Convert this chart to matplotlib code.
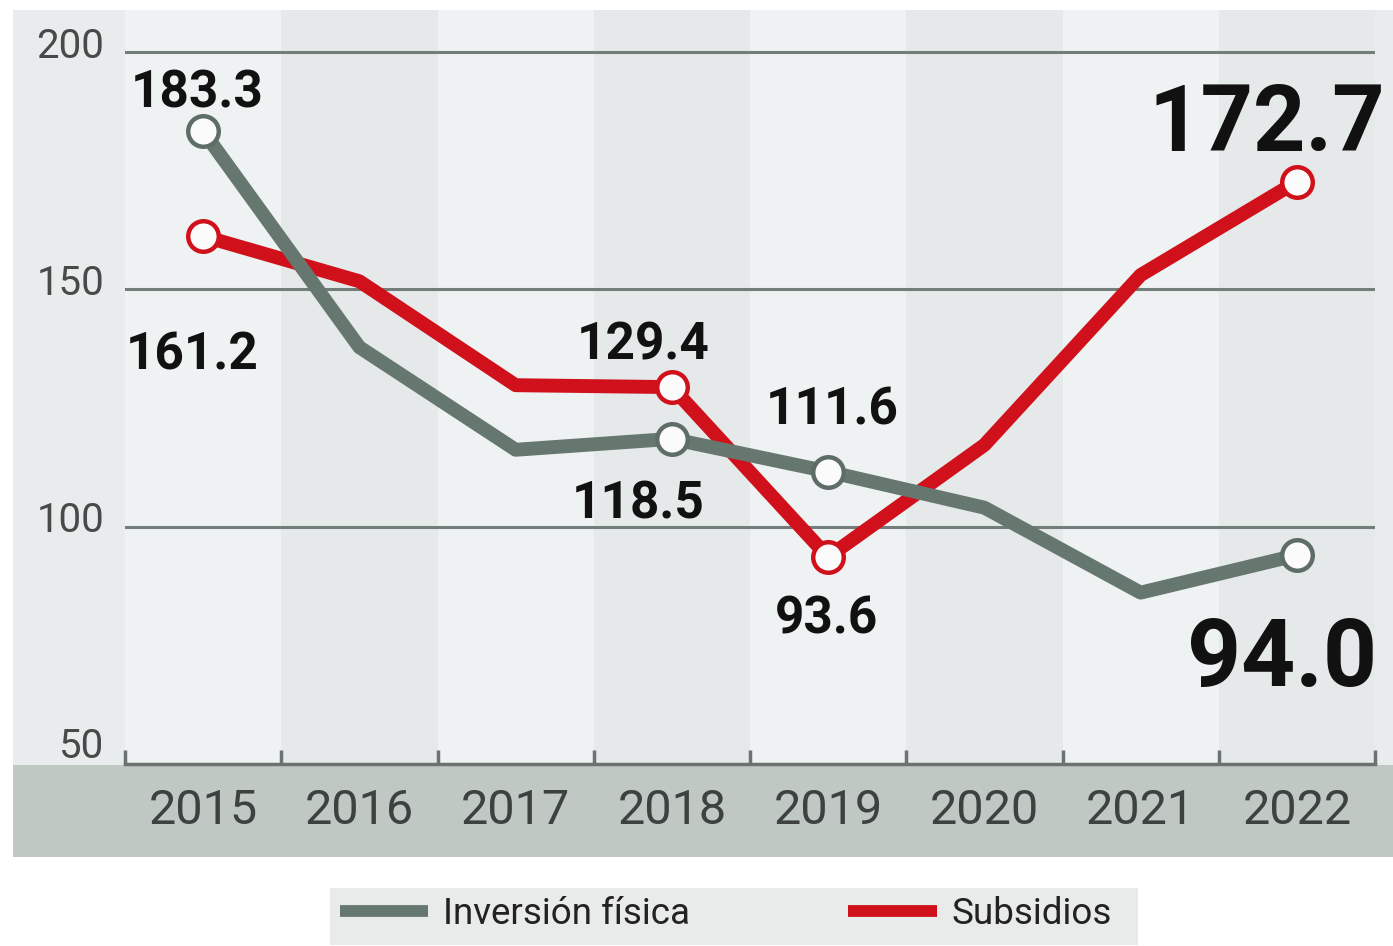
import numpy as np
import matplotlib.pyplot as plt
from matplotlib.patches import Rectangle
from matplotlib.lines import Line2D
from matplotlib.transforms import offset_copy

# Inversión física vs Subsidios, 2015-2022
years = ['2015', '2016', '2017', '2018', '2019', '2020', '2021', '2022']
inversion = [183.3, 137.8, 116.2, 118.5, 111.6, 104.0, 86.1, 94.0]
subsidios = [161.2, 151.7, 129.8, 129.4, 93.6, 117.2, 153.0, 172.7]
y_ticks = [50, 100, 150, 200]
labeled = [0, 3, 4, 7]   # points that get a marker and a value label

GRAY = '#66776f'
RED = '#d0111b'
plt.rcParams['font.family'] = ['Roboto', 'DejaVu Sans']

W, H = 1393, 946
fig = plt.figure(figsize=(W / 100, H / 100), dpi=100)

def fx(px):
    return px / W

def fy(py):
    return 1 - py / H

# grey panel, bottom band for the years and legend box
fig.add_artist(Rectangle((fx(13), fy(857)), fx(1393) - fx(13), fy(10) - fy(857),
                         transform=fig.transFigure, color='#e9ecec', lw=0, zorder=-2))
fig.add_artist(Rectangle((fx(13), fy(857)), fx(1393) - fx(13), fy(765) - fy(857),
                         transform=fig.transFigure, color='#c0c8c4', lw=0, zorder=-1))
fig.add_artist(Rectangle((fx(330), fy(945)), fx(1138) - fx(330), fy(888) - fy(945),
                         transform=fig.transFigure, color='#e8ebea', lw=0, zorder=-1))

ax = fig.add_axes([fx(125), fy(764), fx(1375) - fx(125), fy(10) - fy(764)])
ax.patch.set_alpha(0)
x = np.arange(len(years))
ax.set_xlim(-0.5, len(years) - 0.5)
ax.set_ylim(50, 200 + 42 / 4.75)

# alternating column bands
for i in x:
    ax.axvspan(i - 0.5, i + 0.5, color='#eff2f2' if i % 2 == 0 else '#e6e9e9', lw=0, zorder=0)

for v in y_ticks[1:]:
    ax.axhline(v, color='#737d79', lw=2.2, zorder=1)

ax.plot(x, subsidios, color=RED, lw=10, solid_joinstyle='round', solid_capstyle='butt',
        marker='o', markevery=labeled, ms=22, mfc='#fbfbfb', mec=RED, mew=3.2, zorder=3)
ax.plot(x, inversion, color=GRAY, lw=10, solid_joinstyle='round', solid_capstyle='butt',
        marker='o', markevery=labeled, ms=22, mfc='#fbfbfb', mec='#5f6d67', mew=3.2, zorder=4)

# value labels: (x offset, baseline offset) in points from the point
inv_off = {0: (-4, 17), 3: (-24, -57), 4: (3, 34), 7: (-11, -94)}
sub_off = {0: (-8, -96), 3: (-21, 20), 4: (-1, -55), 7: (-22, 22)}
for series, offs in ((inversion, inv_off), (subsidios, sub_off)):
    for i, (dx, dy) in offs.items():
        big = i == len(years) - 1
        ax.annotate(f'{series[i]:.1f}', (x[i], series[i]), xytext=(dx, dy),
                    textcoords='offset points', ha='center', va='baseline',
                    fontsize=(66 if series is subsidios else 68) if big else 37,
                    fontweight='bold', color='#111111', zorder=6)

# y labels sit just above their gridlines
for v in y_ticks:
    tr = offset_copy(ax.get_yaxis_transform(), fig=fig, x=-15,
                     y=4 if v == y_ticks[0] else -4, units='points')
    ax.text(0, v, str(v), transform=tr, ha='right', va='baseline',
            fontsize=29, color='#464b4a')
ax.set_yticks([])

ax.set_xticks(x, years)
ax.set_xticks(np.arange(-0.5, len(years)), minor=True)
ax.tick_params(axis='x', which='major', length=0, pad=17, labelsize=35, labelcolor='#3d4240')
ax.tick_params(axis='x', which='minor', direction='in', length=10, width=2.5, color='#6b7270')

for side in ('top', 'right', 'left'):
    ax.spines[side].set_visible(False)
ax.spines['bottom'].set_color('#6b7270')
ax.spines['bottom'].set_linewidth(2.5)
ax.spines['bottom'].set_zorder(5)

handles = [Line2D([], [], color=GRAY, lw=8.5, solid_capstyle='butt'),
           Line2D([], [], color=RED, lw=8.5, solid_capstyle='butt')]
fig.legend(handles, ['Inversión física', 'Subsidios'], loc='center',
           bbox_to_anchor=(fx(726), fy(914)), ncol=2, frameon=False, fontsize=26.5,
           handlelength=2.4, handletextpad=0.4, columnspacing=4.3,
           labelcolor='#222222')

fig.savefig('out.png', dpi=100)
